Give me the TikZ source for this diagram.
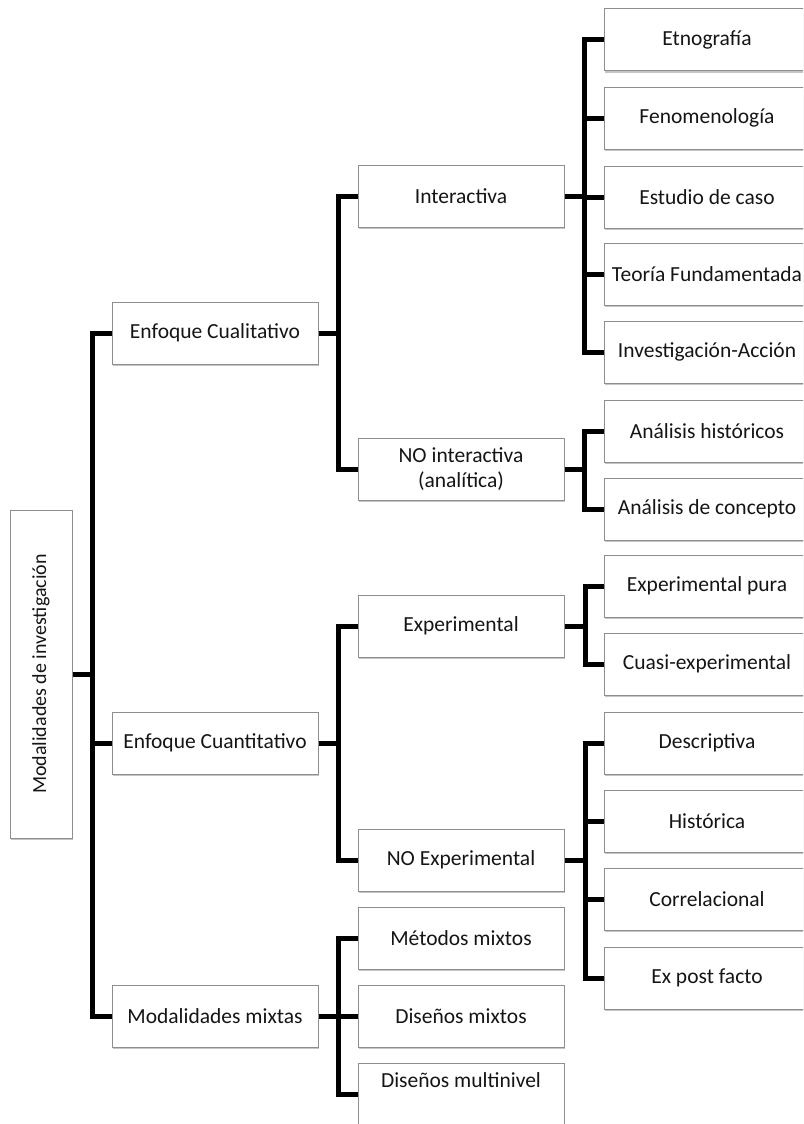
\documentclass[tikz,border=0pt]{standalone}
\usepackage{fontspec}
\setmainfont{Carlito}
\usetikzlibrary{shadows}
\definecolor{boxline}{HTML}{8E8E8E}
\definecolor{txt}{HTML}{151515}
\tikzset{
  box/.style={draw=boxline, line width=1pt, fill=white, text=txt,
    minimum width=206pt, minimum height=62pt, inner sep=2pt,
    font=\fontsize{21.5}{24.5}\selectfont, align=center,
    drop shadow={shadow xshift=1.2pt, shadow yshift=-2.2pt, fill=black!50, opacity=0.45}},
  conn/.style={line width=5pt, black, line join=miter}
}
\begin{document}
\begin{tikzpicture}[x=1pt, y=-1pt]
\clip (0,0) rectangle (803,1124);
\fill[white] (0,0) rectangle (803,1124);

% root
\node[box, rotate=90, minimum width=328pt, minimum height=62pt,
      font=\fontsize{20}{23}\selectfont] (root) at (41,674) {Modalidades de investigación};

% first level
\node[box] (cual) at (215,333) {Enfoque Cualitativo};
\node[box] (cuan) at (215,743) {Enfoque Cuantitativo};
\node[box] (mix)  at (215,1016) {Modalidades mixtas};

% second level
\node[box] (inter)   at (461,196) {Interactiva};
\node[box] (nointer) at (461,469) {NO interactiva\\(analítica)};
\node[box] (exp)     at (461,626) {Experimental};
\node[box] (noexp)   at (461,860) {NO Experimental};
\node[box] (metodos) at (461,938) {Métodos mixtos};
\node[box] (disenos) at (461,1016) {Diseños mixtos};
\node[box, minimum height=63pt] (multi) at (461,1094.5) {};
\node[text=txt, font=\fontsize{21.5}{24.5}\selectfont] (multitxt) at (461,1080) {Diseños multinivel};

% third level
\node[box] (etno)    at (707,40)  {Etnografía};
\node[box] (feno)    at (707,118) {Fenomenología};
\node[box] (estudio) at (707,197) {Estudio de caso};
\node[box] (teoria)  at (707,274) {Teoría Fundamentada};
\node[box] (invacc)  at (707,352) {Investigación-Acción};
\node[box] (anhist)  at (707,431) {Análisis históricos};
\node[box] (ancon)   at (707,509) {Análisis de concepto};
\node[box] (exppura) at (707,586) {Experimental pura};
\node[box] (cuasi)   at (707,664) {Cuasi-experimental};
\node[box] (desc)    at (707,743) {Descriptiva};
\node[box] (hist)    at (707,821) {Histórica};
\node[box] (corr)    at (707,899) {Correlacional};
\node[box] (expost)  at (707,978) {Ex post facto};

% bar positions
\coordinate (b1) at (92,676);
\coordinate (b2a) at (338,333);
\coordinate (b2b) at (338,743);
\coordinate (b2c) at (338,1016);
\coordinate (b3a) at (584,196);
\coordinate (b3b) at (584,469);
\coordinate (b3c) at (585,626);
\coordinate (b3d) at (585,860);

% root to first level
\draw[conn] (cual.west) -| (b1) |- (mix.west);
\draw[conn] (root.south) -- (root.south -| b1);
\draw[conn] (cuan.west) -- (cuan.west -| b1);

% qualitative branch
\draw[conn] (inter.west) -| (b2a) |- (nointer.west);
\draw[conn] (cual.east) -- (b2a);
\draw[conn] (etno.west) -| (b3a) |- (invacc.west);
\draw[conn] (inter.east) -- (b3a);
\draw[conn] (feno.west) -- (feno.west -| b3a);
\draw[conn] (estudio.west) -- (estudio.west -| b3a);
\draw[conn] (teoria.west) -- (teoria.west -| b3a);
\draw[conn] (anhist.west) -| (b3b) |- (ancon.west);
\draw[conn] (nointer.east) -- (b3b);

% quantitative branch
\draw[conn] (exp.west) -| (b2b) |- (noexp.west);
\draw[conn] (cuan.east) -- (b2b);
\draw[conn] (exppura.west) -| (b3c) |- (cuasi.west);
\draw[conn] (exp.east) -- (b3c);
\draw[conn] (desc.west) -| (b3d) |- (expost.west);
\draw[conn] (noexp.east) -- (b3d);
\draw[conn] (hist.west) -- (hist.west -| b3d);
\draw[conn] (corr.west) -- (corr.west -| b3d);

% mixed branch
\draw[conn] (metodos.west) -| (b2c) |- (multi.west);
\draw[conn] (mix.east) -- (b2c);
\draw[conn] (disenos.west) -- (b2c);
\end{tikzpicture}
\end{document}
